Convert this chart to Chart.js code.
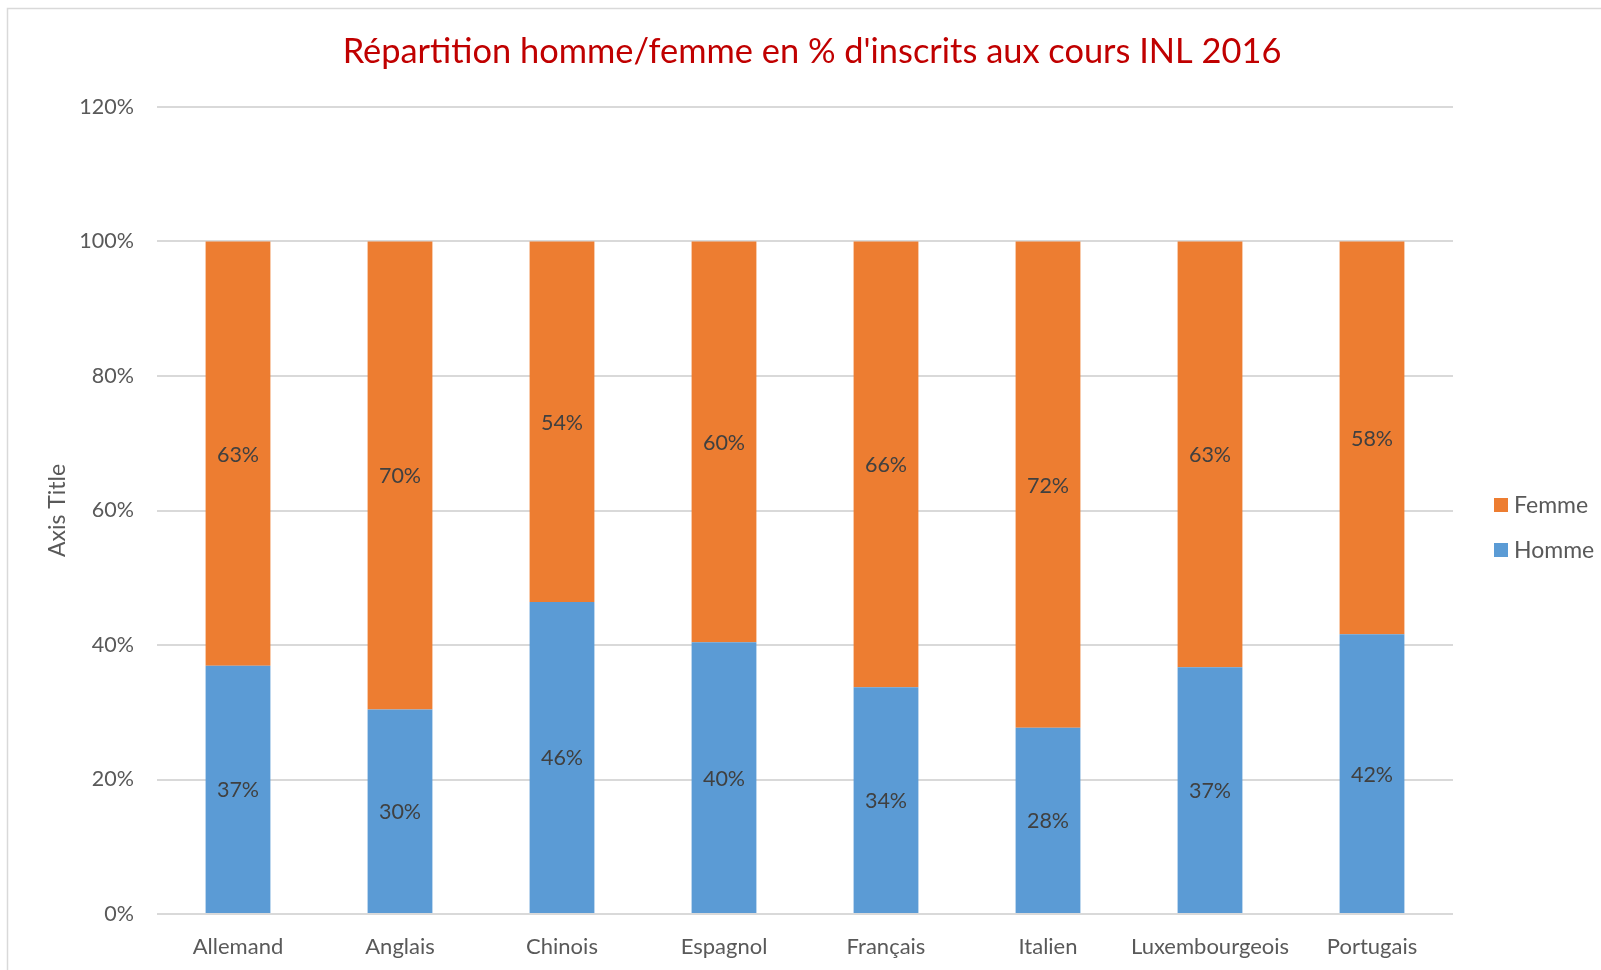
<!DOCTYPE html>
<html lang="fr">
<head>
    <meta charset="UTF-8">
    <title>Répartition homme/femme</title>
    <script src="https://cdn.jsdelivr.net/npm/chart.js"></script>
    <style>
        html, body { margin: 0; padding: 0; background: #fff; }
        #wrap { width: 1601px; height: 970px; }
    </style>
</head>
<body>
    <div id="wrap"><canvas id="chart" width="1601" height="970"></canvas></div>

    <script>
    // values (percent)
    const langues = ['Allemand', 'Anglais', 'Chinois', 'Espagnol', 'Français', 'Italien', 'Luxembourgeois', 'Portugais'];
    const homme = [36.9, 30.4, 46.4, 40.4, 33.7, 27.7, 36.7, 41.6];
    const femme = [63.1, 69.6, 53.6, 59.6, 66.3, 72.3, 63.3, 58.4];
    const yTicks = [0, 20, 40, 60, 80, 100, 120];

    const titre = "Répartition homme/femme en % d'inscrits aux cours INL 2016";
    const FONT = 'Lato, "Open Sans", sans-serif';

    // frame, title, legend and the labels inside the bars
    const decor = {
        id: 'decor',
        beforeDraw(chart) {
            const ctx = chart.ctx;
            ctx.save();
            ctx.fillStyle = '#fff';
            ctx.fillRect(0, 0, chart.width, chart.height);
            ctx.strokeStyle = '#d9d9d9';
            ctx.lineWidth = 1.5;
            ctx.beginPath();
            ctx.moveTo(7.5, chart.height);
            ctx.lineTo(7.5, 8.5);
            ctx.lineTo(chart.width, 8.5);
            ctx.stroke();
            ctx.restore();
        },
        afterDatasetsDraw(chart) {
            const ctx = chart.ctx;
            ctx.save();
            ctx.font = '21.5px ' + FONT;
            ctx.fillStyle = '#404040';
            ctx.textAlign = 'center';
            ctx.textBaseline = 'middle';
            chart.data.datasets.forEach((ds, i) => {
                chart.getDatasetMeta(i).data.forEach((bar, j) => {
                    ctx.fillText(Math.round(ds.data[j]) + '%', bar.x, (bar.y + bar.base) / 2 + 1);
                });
            });

            // title
            ctx.font = '34.4px ' + FONT;
            ctx.fillStyle = '#c00000';
            ctx.textBaseline = 'alphabetic';
            ctx.fillText(titre, 812, 63);

            // legend, Femme above Homme
            ctx.font = '23px ' + FONT;
            ctx.textAlign = 'left';
            ctx.textBaseline = 'middle';
            const order = chart.data.datasets.slice().reverse();
            order.forEach((ds, k) => {
                const y = 505 + k * 45;
                ctx.fillStyle = ds.backgroundColor;
                ctx.fillRect(1494, y - 7, 14, 14);
                ctx.fillStyle = '#595959';
                ctx.fillText(ds.label, 1514, y + 1);
            });
            ctx.restore();
        }
    };

    new Chart(document.getElementById('chart'), {
        type: 'bar',
        data: {
            labels: langues,
            datasets: [
                { label: 'Homme', data: homme, backgroundColor: '#5b9bd5' },
                { label: 'Femme', data: femme, backgroundColor: '#ed7d31' }
            ]
        },
        options: {
            responsive: false,
            animation: false,
            devicePixelRatio: 1,
            layout: { padding: { top: 107, right: 148, bottom: 0, left: 0 } },
            datasets: { bar: { categoryPercentage: 1, barPercentage: 0.4 } },
            plugins: {
                legend: { display: false },
                title: { display: false },
                tooltip: { enabled: false }
            },
            scales: {
                x: {
                    stacked: true,
                    grid: { display: false },
                    border: { display: false },
                    ticks: { color: '#595959', font: { family: FONT, size: 22 }, padding: 12, maxRotation: 0 },
                    afterFit(scale) { scale.height = 56; }
                },
                y: {
                    stacked: true,
                    min: 0,
                    max: 120,
                    afterBuildTicks(scale) { scale.ticks = yTicks.map(v => ({ value: v })); },
                    grid: { color: '#d9d9d9', lineWidth: 2, drawTicks: false },
                    border: { display: false },
                    ticks: {
                        color: '#595959',
                        font: { family: FONT, size: 21.5 },
                        padding: 23,
                        callback: v => v + '%'
                    },
                    title: {
                        display: true,
                        text: 'Axis Title',
                        color: '#595959',
                        font: { family: FONT, size: 23 },
                        padding: { top: 44, bottom: 0 }
                    },
                    afterFit(scale) { scale.width = 157; }
                }
            }
        },
        plugins: [decor]
    });
    </script>
</body>
</html>
